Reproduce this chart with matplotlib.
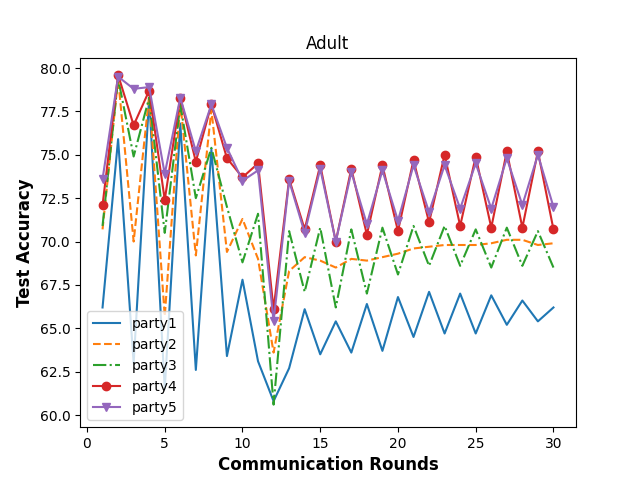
import numpy as np
import matplotlib
matplotlib.use('Agg')
from matplotlib import pyplot as plt

rounds = np.arange(1, 31)
party1 = [66.2, 75.9, 63.0, 78.3, 61.5, 76.8, 62.6, 75.3, 63.4, 67.8, 63.1, 60.8, 62.7, 66.1, 63.5,
          65.4, 63.6, 66.4, 63.7, 66.8, 64.5, 67.1, 64.7, 67.0, 64.7, 66.9, 65.2, 66.6, 65.4, 66.2]
party2 = [70.7, 79.4, 70.0, 78.4, 65.7, 78.0, 69.2, 77.6, 69.4, 71.3, 69.0, 63.6, 68.3, 69.1, 68.9,
          68.5, 69.0, 68.9, 69.1, 69.3, 69.6, 69.7, 69.8, 69.8, 69.8, 69.9, 70.1, 70.1, 69.8, 69.9]
party3 = [70.9, 79.4, 74.9, 78.3, 70.5, 77.9, 72.5, 75.4, 72.0, 68.8, 71.6, 60.6, 70.6, 67.1, 70.8,
          66.2, 70.7, 67.0, 70.8, 68.1, 70.9, 68.6, 70.9, 68.6, 70.7, 68.5, 70.8, 68.6, 70.6, 68.5]
party4 = [72.1, 79.6, 76.7, 78.7, 72.4, 78.3, 74.6, 77.9, 74.8, 73.7, 74.5, 66.1, 73.6, 70.7, 74.4,
          70.0, 74.2, 70.4, 74.4, 70.6, 74.7, 71.1, 75.0, 70.9, 74.9, 70.8, 75.2, 70.8, 75.2, 70.7]
party5 = [73.6, 79.5, 78.8, 78.9, 73.9, 78.3, 75.2, 77.9, 75.4, 73.5, 74.1, 65.4, 73.5, 70.5, 74.2,
          70.0, 74.0, 71.0, 74.1, 71.2, 74.4, 71.7, 74.4, 71.9, 74.5, 71.9, 74.8, 72.1, 75.0, 72.0]

plt.figure(figsize=(6.4, 4.8), dpi=100)
plt.plot(rounds, party1, '-', color='tab:blue', label='party1')
plt.plot(rounds, party2, '--', color='tab:orange', label='party2')
plt.plot(rounds, party3, '-.', color='tab:green', label='party3')
plt.plot(rounds, party4, '-o', color='tab:red', label='party4')
plt.plot(rounds, party5, '-v', color='tab:purple', label='party5')
plt.ylim(59.3, 80.6)
plt.title('Adult')
plt.xlabel('Communication Rounds', fontsize=12, fontweight='bold')
plt.ylabel('Test Accuracy', fontsize=12, fontweight='bold')
plt.legend(loc='lower left')
plt.savefig('out.png')
